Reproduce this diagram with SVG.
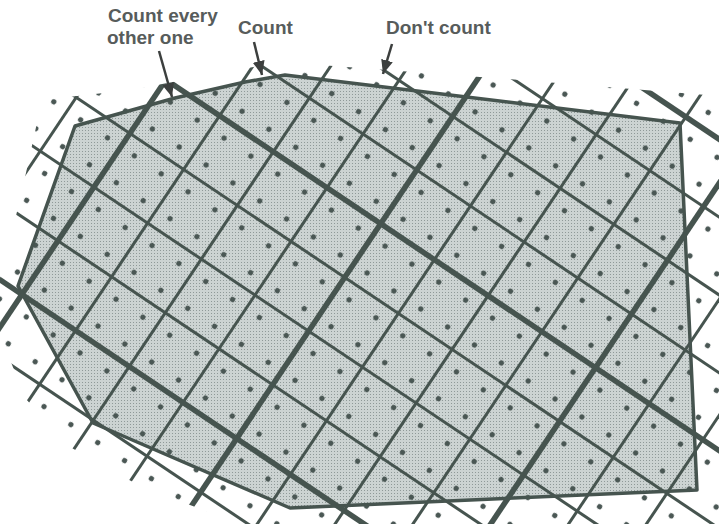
<svg xmlns="http://www.w3.org/2000/svg" width="719" height="524" viewBox="0 0 719 524">
<style>
.fill{fill:url(#stip);stroke:none}
.outline{fill:none;stroke:#46544f;stroke-width:3.5;stroke-linejoin:round}
.thin{stroke:#46544f;stroke-width:3;fill:none}
.thick{stroke:#46544f;stroke-width:5.5;fill:none}
.lbl{font-family:"Liberation Sans",Arial,Helvetica,sans-serif;font-weight:bold;font-size:19px;fill:#575c5b}
.arr{stroke:#3c3f3e;stroke-width:2.5;fill:none;marker-end:url(#head)}
</style>
<defs>
<pattern id="stip" patternUnits="userSpaceOnUse" width="3" height="3">
<rect width="3" height="3" fill="#ccd3d2"/>
<rect x="1" y="1" width="1" height="1" fill="#8f9998"/>
</pattern>
<pattern id="dots" patternUnits="userSpaceOnUse" width="32.325" height="32.325" patternTransform="translate(273.3,151.7) rotate(33.84)">
<circle cx="16.16" cy="16.16" r="2.6" fill="#4a5754"/>
</pattern>
<clipPath id="outer">
<polygon points="42,100 130,90 280,62 520,80 719,96 719,524 240,524 140,486 70,447 25,398 0,334 0,278 20,200"/>
</clipPath>
<marker id="head" markerUnits="userSpaceOnUse" markerWidth="16" markerHeight="12" refX="14" refY="6" orient="auto">
<path d="M0,0 L14,6 L0,12 z" fill="#3c3f3e"/>
</marker>
</defs>
<rect width="719" height="524" fill="#ffffff"/>
<g id="region">
<polygon class="fill" points="75,126 175,98 245,82 285,75 680,123 697,490 290,508 93,423 18,286"/>
</g>
<g id="dot-grid" clip-path="url(#outer)">
<rect width="719" height="524" fill="url(#dots)"/>
</g>
<g id="grid" clip-path="url(#outer)">
<g transform="translate(273.3,151.7) rotate(33.84)">
<line class="thin" x1="-323.25" y1="-460" x2="-323.25" y2="600"/>
<line class="thin" x1="-258.6" y1="-460" x2="-258.6" y2="600"/>
<line class="thin" x1="-193.95" y1="-460" x2="-193.95" y2="600"/>
<line class="thick" x1="-129.3" y1="-460" x2="-129.3" y2="600"/>
<line class="thin" x1="-64.65" y1="-460" x2="-64.65" y2="600"/>
<line class="thin" x1="0" y1="-460" x2="0" y2="600"/>
<line class="thin" x1="64.65" y1="-460" x2="64.65" y2="600"/>
<line class="thick" x1="129.3" y1="-460" x2="129.3" y2="600"/>
<line class="thin" x1="193.95" y1="-460" x2="193.95" y2="600"/>
<line class="thin" x1="258.6" y1="-460" x2="258.6" y2="600"/>
<line class="thin" x1="323.25" y1="-460" x2="323.25" y2="600"/>
<line class="thick" x1="387.9" y1="-460" x2="387.9" y2="600"/>
<line class="thin" x1="452.55" y1="-460" x2="452.55" y2="600"/>
<line class="thin" x1="517.2" y1="-460" x2="517.2" y2="600"/>
<line class="thin" x1="581.85" y1="-460" x2="581.85" y2="600"/>
<line class="thin" x1="-420" y1="-387.9" x2="680" y2="-387.9"/>
<line class="thin" x1="-420" y1="-323.25" x2="680" y2="-323.25"/>
<line class="thick" x1="-420" y1="-258.6" x2="680" y2="-258.6"/>
<line class="thin" x1="-420" y1="-193.95" x2="680" y2="-193.95"/>
<line class="thin" x1="-420" y1="-129.3" x2="680" y2="-129.3"/>
<line class="thin" x1="-420" y1="-64.65" x2="680" y2="-64.65"/>
<line class="thick" x1="-420" y1="0" x2="680" y2="0"/>
<line class="thin" x1="-420" y1="64.65" x2="680" y2="64.65"/>
<line class="thin" x1="-420" y1="129.3" x2="680" y2="129.3"/>
<line class="thin" x1="-420" y1="193.95" x2="680" y2="193.95"/>
<line class="thick" x1="-420" y1="258.6" x2="680" y2="258.6"/>
<line class="thin" x1="-420" y1="323.25" x2="680" y2="323.25"/>
<line class="thin" x1="-420" y1="387.9" x2="680" y2="387.9"/>
<line class="thin" x1="-420" y1="452.55" x2="680" y2="452.55"/>
</g>
</g>
<g id="boundary">
<polygon class="outline" points="75,126 175,98 245,82 285,75 680,123 697,490 290,508 93,423 18,286"/>
</g>
<g id="label-every-other">
<text class="lbl" x="108" y="22">Count every</text>
<text class="lbl" x="107" y="43.5">other one</text>
<line class="arr" x1="159" y1="51" x2="172" y2="97"/>
</g>
<g id="label-count">
<text class="lbl" x="238" y="33.5">Count</text>
<line class="arr" x1="254" y1="42" x2="262" y2="75"/>
</g>
<g id="label-dont-count">
<text class="lbl" x="386" y="34">Don't count</text>
<line class="arr" x1="392" y1="44" x2="383" y2="74"/>
</g>
</svg>
